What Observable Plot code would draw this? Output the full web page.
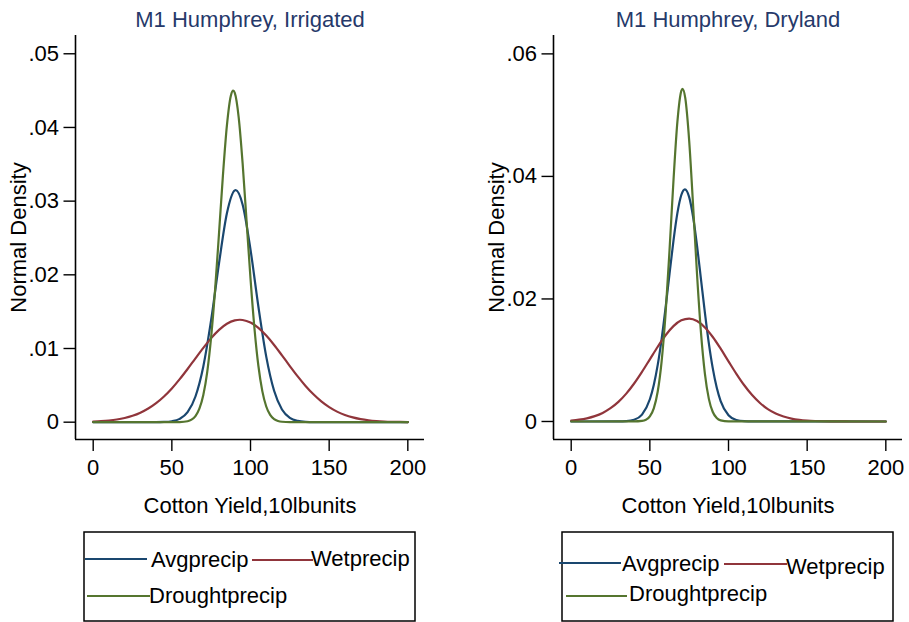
<!DOCTYPE html>
<html>
<head>
<meta charset="utf-8">
<script src="https://cdn.jsdelivr.net/npm/d3@7"></script>
<script src="https://cdn.jsdelivr.net/npm/@observablehq/plot@0.6"></script>
<style>
  html, body { margin: 0; padding: 0; background: #fff; }
  #chart { position: relative; width: 909px; height: 622px; background: #fff; overflow: hidden;
           font-family: "Liberation Sans", Arial, sans-serif; }
  #chart > svg { position: absolute; top: 0; }
</style>
</head>
<body>
<div id="chart"></div>
<script>
// ---------- Text ----------
const panelTitles = ["M1 Humphrey, Irrigated", "M1 Humphrey, Dryland"];
const xTitle = "Cotton Yield,10lbunits";
const yTitle = "Normal Density";
const seriesNames = ["Avgprecip", "Wetprecip", "Droughtprecip"];
const seriesColors = ["#1a476f", "#90353b", "#55752f"];
const titleColor = "#26396a";

// ---------- Ticks ----------
const xTicks = [0, 50, 100, 150, 200];
const xTickLabels = ["0", "50", "100", "150", "200"];
const yTicks1 = [0, 0.01, 0.02, 0.03, 0.04, 0.05];
const yTickLabels1 = ["0", ".01", ".02", ".03", ".04", ".05"];
const yTicks2 = [0, 0.02, 0.04, 0.06];
const yTickLabels2 = ["0", ".02", ".04", ".06"];
const xDomain = [-11.25, 210.6];
const yDomain1 = [-0.00235, 0.05248];
const yDomain2 = [-0.00294, 0.0630];

// ---------- Panel 1: Irrigated ----------
const avgX1 = [0, 40, 45, 50, 55, 60, 65, 70, 75, 80, 85, 90, 90.6, 95, 100, 105, 110, 115, 120, 125, 130, 135, 140, 200];
const avgY1 = [0, 0.000006, 0.000029, 0.000124, 0.000446, 0.001355, 0.003487, 0.00757, 0.01391, 0.0216, 0.02835, 0.03146, 0.0315, 0.02952, 0.02341, 0.0157, 0.0089, 0.00426, 0.001726, 0.000591, 0.000171, 0.000042, 0.000009, 0];

const wetX1 = [0, 5, 10, 15, 20, 25, 30, 35, 40, 45, 50, 55, 60, 65, 70, 75, 80, 85, 90, 93.2, 95, 100, 105, 110, 115, 120, 125, 130, 135, 140, 145, 150, 155, 160, 165, 170, 175, 180, 185, 190, 195, 200];
const wetY1 = [0.0000795, 0.000136, 0.000227, 0.000366, 0.000575, 0.000874, 0.001294, 0.001855, 0.002586, 0.003493, 0.004581, 0.00584, 0.00722, 0.00867, 0.01009, 0.01141, 0.01253, 0.01336, 0.01382, 0.0139, 0.01387, 0.01352, 0.0128, 0.01175, 0.01048, 0.00907, 0.00762, 0.00621, 0.00492, 0.00378, 0.00282, 0.00204, 0.001435, 0.000979, 0.000648, 0.000417, 0.00026, 0.000158, 0.0000927, 0.0000528, 0.0000293, 0.0000157];

const drX1 = [0, 50, 55, 60, 62.5, 65, 67.5, 70, 72.5, 75, 77.5, 80, 82.5, 85, 87.5, 89, 90, 92.5, 95, 97.5, 100, 102.5, 105, 107.5, 110, 112.5, 115, 117.5, 120, 125, 200];
const drY1 = [0, 0.000001, 0.0000151, 0.000133, 0.000349, 0.000835, 0.001836, 0.0037, 0.00684, 0.0116, 0.01802, 0.02569, 0.03359, 0.04028, 0.04431, 0.045, 0.04469, 0.04134, 0.03508, 0.02729, 0.01948, 0.01275, 0.00766, 0.004215, 0.002127, 0.000985, 0.000418, 0.000163, 0.000058, 0.0000057, 0];

// ---------- Panel 2: Dryland ----------
const avgX2 = [0, 30, 35, 40, 45, 50, 52.5, 55, 57.5, 60, 62.5, 65, 67.5, 70, 72.3, 75, 77.5, 80, 82.5, 85, 87.5, 90, 92.5, 95, 100, 105, 110, 115, 200];
const avgY2 = [0, 0.000008, 0.0000538, 0.000277, 0.001131, 0.003635, 0.00597, 0.00924, 0.0135, 0.01858, 0.0241, 0.02948, 0.034, 0.03697, 0.0379, 0.03662, 0.03337, 0.02866, 0.02321, 0.01773, 0.01275, 0.00866, 0.00554, 0.00334, 0.00102, 0.000245, 0.0000467, 0.000007, 0];

const wetX2 = [0, 5, 10, 15, 20, 25, 30, 35, 40, 45, 50, 55, 60, 65, 70, 75, 80, 85, 90, 95, 100, 105, 110, 115, 120, 125, 130, 135, 140, 145, 150, 155, 160, 165, 170, 175, 180, 185, 190, 195, 200];
const wetY2 = [0.000163, 0.000297, 0.000519, 0.000872, 0.0014, 0.002166, 0.0032, 0.00455, 0.0062, 0.0081, 0.01015, 0.0122, 0.01407, 0.01556, 0.01651, 0.0168, 0.0164, 0.01535, 0.01379, 0.01188, 0.00982, 0.00778, 0.00591, 0.00431, 0.00302, 0.002024, 0.001304, 0.000805, 0.000477, 0.000271, 0.000147, 0.0000769, 0.0000386, 0.000018, 0.000008, 0.000003, 0.000001, 0, 0, 0, 0];

const drX2 = [0, 40, 45, 47.5, 50, 52.5, 55, 57.5, 60, 62.5, 65, 67.5, 70, 70.8, 72.5, 75, 77.5, 80, 82.5, 85, 87.5, 90, 92.5, 95, 100, 200];
const drY2 = [0, 0.0000058, 0.0000885, 0.000289, 0.000836, 0.00215, 0.00489, 0.00986, 0.01763, 0.02794, 0.03925, 0.04889, 0.05397, 0.0543, 0.05281, 0.04581, 0.03522, 0.024, 0.0145, 0.00777, 0.00369, 0.00155, 0.000578, 0.000191, 0.0000146, 0];

// ---------- Build tables ----------
function table(xs, ys, name) { return xs.map((x, i) => ({x, y: ys[i], series: name})); }
const data1 = [
  ...table(avgX1, avgY1, seriesNames[0]),
  ...table(wetX1, wetY1, seriesNames[1]),
  ...table(drX1, drY1, seriesNames[2])
];
const data2 = [
  ...table(avgX2, avgY2, seriesNames[0]),
  ...table(wetX2, wetY2, seriesNames[1]),
  ...table(drX2, drY2, seriesNames[2])
];

const FONT = "Liberation Sans, Arial, Helvetica, sans-serif";
const FS = 22;

function panel(data, title, yDomain, yTicks, yLabels, opts) {
  return Plot.plot({
    width: opts.width,
    height: 519,
    marginLeft: opts.marginLeft,
    marginRight: opts.marginRight,
    marginTop: 35,
    marginBottom: 80,
    style: {fontFamily: FONT, fontSize: FS + "px", color: "#000", background: "transparent", overflow: "visible"},
    x: {domain: xDomain},
    y: {domain: yDomain},
    color: {domain: seriesNames, range: seriesColors},
    marks: [
      Plot.axisX({ticks: xTicks, tickFormat: d => xTickLabels[xTicks.indexOf(d)], tickSize: 12, tickPadding: 8, strokeWidth: 1.4, fontSize: FS, label: null}),
      Plot.axisY({ticks: yTicks, tickFormat: d => yLabels[yTicks.indexOf(d)], tickSize: 11.5, tickPadding: 5, strokeWidth: 1.4, fontSize: FS, label: null}),
      Plot.ruleX([xDomain[0]], {stroke: "#000", strokeWidth: 1.6}),
      Plot.ruleY([yDomain[0]], {stroke: "#000", strokeWidth: 1.6}),
      Plot.line(data, {x: "x", y: "y", z: "series", stroke: "series", strokeWidth: 2.2, curve: "monotone-x"}),
      Plot.text([title], {frameAnchor: "top", lineAnchor: "middle", dy: -16, fill: titleColor, fontSize: FS}),
      Plot.text([xTitle], {frameAnchor: "bottom", lineAnchor: "middle", dy: 66, fontSize: FS}),
      Plot.text([yTitle], {frameAnchor: "left", textAnchor: "middle", lineAnchor: "middle", dx: -57, rotate: -90, fontSize: FS})
    ]
  });
}

const chart = document.getElementById("chart");
const p1 = panel(data1, panelTitles[0], yDomain1, yTicks1, yTickLabels1, {width: 440, marginLeft: 75, marginRight: 16});
p1.style.left = "0px";
chart.appendChild(p1);
const p2 = panel(data2, panelTitles[1], yDomain2, yTicks2, yTickLabels2, {width: 439, marginLeft: 83, marginRight: 7});
p2.style.left = "470px";
chart.appendChild(p2);

// ---------- Legends (Stata-style boxes below each panel) ----------
const legendLayouts = [
  {box: [84, 532, 331, 89],
   items: [{x1: 85, x2: 147, ly: 559, tx: 151, ty: 559},
           {x1: 252, x2: 313, ly: 560, tx: 311, ty: 558},
           {x1: 87, x2: 150, ly: 596, tx: 149, ty: 595}]},
  {box: [562, 532, 331, 89],
   items: [{x1: 559, x2: 621, ly: 563, tx: 622, ty: 563},
           {x1: 724, x2: 787, ly: 564, tx: 786, ty: 566},
           {x1: 566, x2: 627, ly: 596, tx: 629, ty: 593}]}
];
const svg = d3.select(chart).append("svg")
  .attr("width", 909).attr("height", 622)
  .style("left", "0px").style("top", "0px").style("position", "absolute")
  .attr("font-family", FONT).attr("font-size", FS);
legendLayouts.forEach(L => {
  svg.append("rect").attr("x", L.box[0]).attr("y", L.box[1]).attr("width", L.box[2]).attr("height", L.box[3])
    .attr("fill", "none").attr("stroke", "#000").attr("stroke-width", 1.5);
  L.items.forEach((it, i) => {
    svg.append("line").attr("x1", it.x1).attr("x2", it.x2).attr("y1", it.ly).attr("y2", it.ly)
      .attr("stroke", seriesColors[i]).attr("stroke-width", 2.2);
    svg.append("text").attr("x", it.tx).attr("y", it.ty).attr("dominant-baseline", "central")
      .attr("fill", "#000").text(seriesNames[i]);
  });
});
</script>
</body>
</html>
